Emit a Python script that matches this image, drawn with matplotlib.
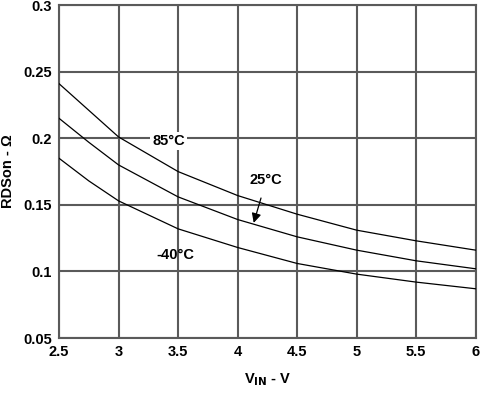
import matplotlib
matplotlib.use("Agg")
import matplotlib.pyplot as plt

plt.rcParams.update({
    "font.family": ["Liberation Sans", "DejaVu Sans"],
    "font.weight": "bold",
    "font.size": 10.5,
})

GRID = "#5a5a5a"

vin = [2.5, 2.75, 3, 3.5, 4, 4.5, 5, 5.5, 6]
r_85 = [0.241, 0.221, 0.201, 0.175, 0.157, 0.143, 0.131, 0.123, 0.116]
r_25 = [0.215, 0.197, 0.180, 0.156, 0.139, 0.126, 0.116, 0.108, 0.102]
r_m40 = [0.185, 0.168, 0.153, 0.132, 0.118, 0.106, 0.098, 0.092, 0.087]

xticks = [2.5, 3, 3.5, 4, 4.5, 5, 5.5, 6]
yticks = [0.05, 0.1, 0.15, 0.2, 0.25, 0.3]

fig = plt.figure(figsize=(4.84, 3.94), dpi=100)
ax = fig.add_axes([0.122, 0.142, 0.861, 0.845])

for y in (r_85, r_25, r_m40):
    ax.plot(vin, y, color="black", lw=0.9, zorder=3)

ax.set_xlim(2.5, 6); ax.set_ylim(0.05, 0.3)
ax.set_xticks(xticks); ax.set_xticklabels(["2.5", "3", "3.5", "4", "4.5", "5", "5.5", "6"])
ax.set_yticks(yticks); ax.set_yticklabels(["0.05", "0.1", "0.15", "0.2", "0.25", "0.3"])
ax.grid(True, color=GRID, lw=1.5)
ax.set_axisbelow(True)
for s in ax.spines.values():
    s.set_color(GRID); s.set_linewidth(1.5)
ax.tick_params(length=0, pad=5)

ax.set_xlabel("V$_\\mathbf{IN}$ - V", fontweight="bold", labelpad=9)
ax.set_ylabel("RDSon - Ω", fontweight="bold", labelpad=6)

ax.text(3.42, 0.198, "85°C", ha="center", va="center", fontweight="bold", zorder=4,
        bbox=dict(boxstyle="square,pad=0.15", fc="white", ec="none"))
ax.text(3.48, 0.1125, "-40°C", ha="center", va="center", fontweight="bold", zorder=4)
ax.annotate("25°C", xy=(4.135, 0.1365), xytext=(4.24, 0.1685), ha="center", va="center",
            fontweight="bold", zorder=4,
            arrowprops=dict(arrowstyle="-|>", color="black", lw=0.9, mutation_scale=14,
                            shrinkA=6, shrinkB=0))

fig.savefig("out.png", dpi=100)
